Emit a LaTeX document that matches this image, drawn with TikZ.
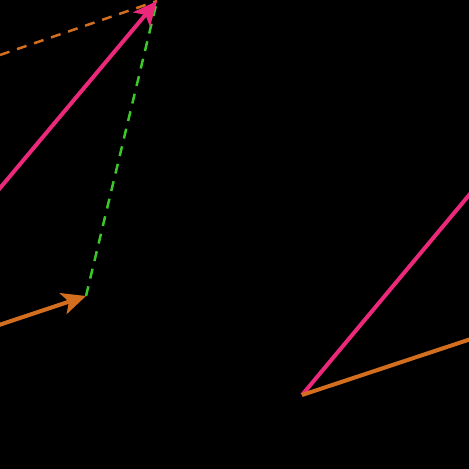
\documentclass[tikz,border=0pt]{standalone}
\usetikzlibrary{arrows.meta}
\definecolor{vpink}{RGB}{236,40,122}
\definecolor{vorange}{RGB}{210,110,30}
\definecolor{vgreen}{RGB}{60,200,40}
\tikzset{
  vecline/.style={line width=4pt},
  vecarrow/.style={vecline,-{Stealth[length=24pt,width=22pt,inset=6pt]}},
  helper/.style={line width=2.5pt,dash pattern=on 10pt off 8pt}
}
\begin{document}
\begin{tikzpicture}[x=1pt,y=-1pt]
\fill[black] (0,0) rectangle (469,469);
\useasboundingbox (0,0) rectangle (469,469);
\clip (0,0) rectangle (469,469);
\coordinate (a0) at (-10,200);
\coordinate (s) at (157,1);
\coordinate (b0) at (-10,328);
\coordinate (b1) at (86,296);
\coordinate (d0) at (0,55);
\coordinate (o) at (302,395);
\coordinate (p) at (480,182);
\coordinate (q) at (480,336);
\draw[helper,vorange] (d0) -- (s);
\draw[helper,vgreen] (b1) -- (s);
\draw[vecarrow,vpink] (a0) -- (s);
\draw[vecarrow,vorange] (b0) -- (b1);
\draw[vecline,vpink] (o) -- (p);
\draw[vecline,vorange] (o) -- (q);
\end{tikzpicture}
\end{document}
